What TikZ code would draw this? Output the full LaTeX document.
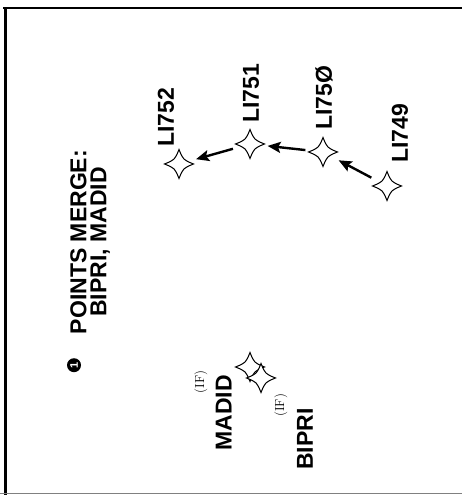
\documentclass[tikz,border=0pt]{standalone}
\usepackage{fontspec}
\newfontfamily\chartfont{Liberation Sans}
\usetikzlibrary{arrows.meta, positioning}

\begin{document}
\begin{tikzpicture}[
    x=1pt, y=1pt,
    fix/.style={circle, minimum size=29pt, inner sep=0pt},
    fixlbl/.style={rotate=90, inner sep=0pt, font=\chartfont\bfseries\fontsize{23}{23}\selectfont},
    iflbl/.style={rotate=90, inner sep=0pt, font=\fontsize{13}{13}\selectfont},
    notelbl/.style={rotate=90, inner sep=0pt, align=center, font=\chartfont\bfseries\fontsize{23}{20}\selectfont},
    numdot/.style={circle, fill=black, text=white, inner sep=0pt, minimum size=14pt, rotate=90, font=\chartfont\bfseries\fontsize{11}{11}\selectfont},
    star/.style={draw, line width=1pt, fill=white},
    arr/.style={-{Stealth[length=13pt, width=11pt, inset=2.5pt]}, line width=2.4pt, shorten <=3pt, shorten >=3pt}
]
\useasboundingbox (0,0) rectangle (462,495);

% chart frame
\draw[line width=2.4pt] (3,487) -- (462,487);
\draw[line width=2.6pt] (5.5,487) -- (5.5,0);
\draw[gray, line width=1pt] (0,1.5) -- (462,1.5);

% fixes
\node[fix] (l752) at (179,331) {};
\node[fix] (l751) at (250,351) {};
\node[fix] (l750) at (323,343) {};
\node[fix] (l749) at (387,309) {};
\node[fix] (madid) at (250,128) {};
\node[fix] (bipri) at (261,117) {};

\foreach \f in {l752,l751,l750,l749,madid,bipri}
  \draw[star, shift={(\f.center)}] (14.5,0) .. controls (4.2,4.2) .. (0,14.5)
    .. controls (-4.2,4.2) .. (-14.5,0) .. controls (-4.2,-4.2) .. (0,-14.5)
    .. controls (4.2,-4.2) .. cycle;

% fix labels
\node[fixlbl, anchor=west] (lbl752) at ([xshift=-13pt, yshift=2.5pt]l752.north) {LI752};
\node[fixlbl, anchor=west] (lbl751) at ([xshift=1pt, yshift=6.5pt]l751.north) {LI751};
\node[fixlbl, anchor=west] (lbl750) at ([xshift=1pt, yshift=7.5pt]l750.north) {LI75Ø};
\node[fixlbl, anchor=west] (lbl749) at ([xshift=13pt, yshift=8.5pt]l749.north) {LI749};
\node[fixlbl, anchor=east] (lblmadid) at ([xshift=-11.5pt, yshift=-8pt]madid.west) {MADID};
\node[fixlbl, anchor=east] (lblbipri) at ([xshift=44pt, yshift=-15.5pt]bipri.south) {BIPRI};
\node[iflbl] (ifmadid) at ([xshift=-23pt, yshift=-7pt]lblmadid.east) {(IF)};
\node[iflbl] (ifbipri) at ([xshift=-24pt, yshift=3pt]lblbipri.east) {(IF)};

% sequence arrows
\draw[arr] (l749) -- (l750);
\draw[arr] (l750) -- (l751);
\draw[arr] (l751) -- (l752);

% note
\node[notelbl] (note) at (90,253) {POINTS MERGE:\\BIPRI, MADID};
\node[numdot] (num) at ([xshift=-16pt, yshift=-31pt]note.west) {1};

\end{tikzpicture}
\end{document}
